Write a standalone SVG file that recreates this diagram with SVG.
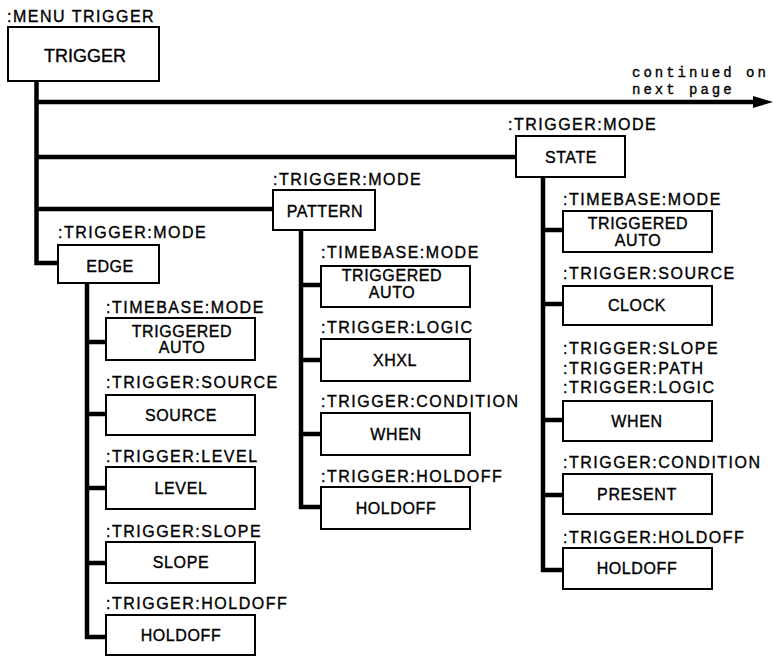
<svg xmlns="http://www.w3.org/2000/svg" width="773" height="656" viewBox="0 0 773 656">
<style>
  .box { fill: #fff; stroke: #000; stroke-width: 2; }
  text { stroke: #000; stroke-width: 0.35px; }
  .lbl { font-family: "Liberation Sans", Arial, sans-serif; font-size: 16px; letter-spacing: 1.5px; fill: #000; }
  .txt { font-family: "Liberation Sans", Arial, sans-serif; font-size: 16px; letter-spacing: 0.6px; fill: #000; text-anchor: middle; }
  .big { font-family: "Liberation Sans", Arial, sans-serif; font-size: 18px; fill: #000; text-anchor: middle; }
  .note { font-family: "Liberation Mono", "Courier New", monospace; font-size: 14px; letter-spacing: 3px; fill: #000; }
  .wire { fill: none; stroke: #000; stroke-width: 4.5; stroke-linejoin: miter; stroke-linecap: butt; }
</style>
<defs>
  <marker id="arrow" markerUnits="userSpaceOnUse" viewBox="0 0 20 12" refX="0" refY="6" markerWidth="20" markerHeight="12" orient="auto">
    <path d="M0,0 L20,6 L0,12 z" fill="#000"/>
  </marker>
</defs>
<rect width="773" height="656" fill="#fff"/>

<g id="connectors">
  <path class="wire" d="M36.5 81 V263 H58"/>
  <path class="wire" d="M36.5 102 H753" marker-end="url(#arrow)"/>
  <path class="wire" d="M36.5 157 H516"/>
  <path class="wire" d="M36.5 209 H273"/>
  <path class="wire" d="M87 283 V637 H106 M87 342 H106 M87 414 H106 M87 488 H106 M87 563 H106"/>
  <path class="wire" d="M301 230 V507 H321 M301 285 H321 M301 360 H321 M301 434 H321"/>
  <path class="wire" d="M543 177 V570 H563 M543 230 H563 M543 304 H563 M543 420 H563 M543 495 H563"/>
</g>

<g id="continued">
  <text class="note" x="632" y="77">continued on</text>
  <text class="note" x="632" y="93.5">next page</text>
</g>

<g id="trigger">
  <text class="lbl" x="7" y="22">:MENU TRIGGER</text>
  <rect class="box" x="8" y="27" width="151" height="54"/>
  <text class="big" x="85" y="62">TRIGGER</text>
</g>

<g id="state">
  <text class="lbl" x="508" y="130">:TRIGGER:MODE</text>
  <rect class="box" x="516" y="136" width="109" height="41"/>
  <text class="txt" x="571" y="163">STATE</text>
</g>

<g id="pattern">
  <text class="lbl" x="273" y="185">:TRIGGER:MODE</text>
  <rect class="box" x="273" y="190" width="102" height="40"/>
  <text class="txt" x="325" y="217">PATTERN</text>
</g>

<g id="edge">
  <text class="lbl" x="58" y="238">:TRIGGER:MODE</text>
  <rect class="box" x="58" y="245" width="101" height="38"/>
  <text class="txt" x="110" y="272">EDGE</text>
</g>

<g id="edge-timebase">
  <text class="lbl" x="106" y="313">:TIMEBASE:MODE</text>
  <rect class="box" x="106" y="318" width="149" height="42"/>
  <text class="txt" x="182" y="337">TRIGGERED</text>
  <text class="txt" x="182" y="353">AUTO</text>
</g>
<g id="edge-source">
  <text class="lbl" x="106" y="388">:TRIGGER:SOURCE</text>
  <rect class="box" x="106" y="395" width="149" height="40"/>
  <text class="txt" x="181" y="421">SOURCE</text>
</g>
<g id="edge-level">
  <text class="lbl" x="106" y="462">:TRIGGER:LEVEL</text>
  <rect class="box" x="106" y="467" width="149" height="42"/>
  <text class="txt" x="181" y="494">LEVEL</text>
</g>
<g id="edge-slope">
  <text class="lbl" x="106" y="537">:TRIGGER:SLOPE</text>
  <rect class="box" x="106" y="542" width="149" height="41"/>
  <text class="txt" x="181" y="568">SLOPE</text>
</g>
<g id="edge-holdoff">
  <text class="lbl" x="106" y="609">:TRIGGER:HOLDOFF</text>
  <rect class="box" x="106" y="615" width="149" height="40"/>
  <text class="txt" x="181" y="641">HOLDOFF</text>
</g>

<g id="pattern-timebase">
  <text class="lbl" x="321" y="258">:TIMEBASE:MODE</text>
  <rect class="box" x="321" y="266" width="149" height="41"/>
  <text class="txt" x="392" y="281">TRIGGERED</text>
  <text class="txt" x="392" y="298">AUTO</text>
</g>
<g id="pattern-logic">
  <text class="lbl" x="321" y="333">:TRIGGER:LOGIC</text>
  <rect class="box" x="321" y="339" width="149" height="42"/>
  <text class="txt" x="395" y="366">XHXL</text>
</g>
<g id="pattern-condition">
  <text class="lbl" x="321" y="407">:TRIGGER:CONDITION</text>
  <rect class="box" x="321" y="413" width="149" height="42"/>
  <text class="txt" x="396" y="440">WHEN</text>
</g>
<g id="pattern-holdoff">
  <text class="lbl" x="321" y="482">:TRIGGER:HOLDOFF</text>
  <rect class="box" x="321" y="487" width="149" height="42"/>
  <text class="txt" x="396" y="514">HOLDOFF</text>
</g>

<g id="state-timebase">
  <text class="lbl" x="563" y="205">:TIMEBASE:MODE</text>
  <rect class="box" x="563" y="211" width="149" height="41"/>
  <text class="txt" x="638" y="229">TRIGGERED</text>
  <text class="txt" x="638" y="246">AUTO</text>
</g>
<g id="state-source">
  <text class="lbl" x="563" y="279">:TRIGGER:SOURCE</text>
  <rect class="box" x="563" y="286" width="149" height="39"/>
  <text class="txt" x="637" y="311">CLOCK</text>
</g>
<g id="state-logic">
  <text class="lbl" x="563" y="354">:TRIGGER:SLOPE</text>
  <text class="lbl" x="563" y="374">:TRIGGER:PATH</text>
  <text class="lbl" x="563" y="393">:TRIGGER:LOGIC</text>
  <rect class="box" x="563" y="401" width="149" height="40"/>
  <text class="txt" x="637" y="427">WHEN</text>
</g>
<g id="state-condition">
  <text class="lbl" x="563" y="468">:TRIGGER:CONDITION</text>
  <rect class="box" x="563" y="474" width="149" height="40"/>
  <text class="txt" x="637" y="500">PRESENT</text>
</g>
<g id="state-holdoff">
  <text class="lbl" x="563" y="543">:TRIGGER:HOLDOFF</text>
  <rect class="box" x="563" y="548" width="149" height="41"/>
  <text class="txt" x="637" y="574">HOLDOFF</text>
</g>
</svg>
